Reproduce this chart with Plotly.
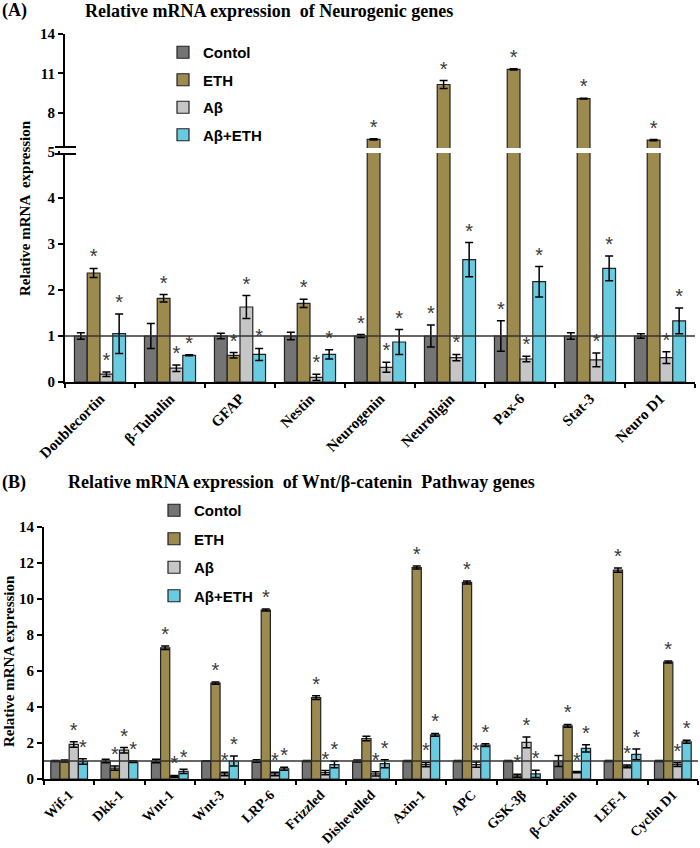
import plotly.graph_objects as go

# groups / colours
groups = ["Contol", "ETH", "Aβ", "Aβ+ETH"]
colors = ["#747474", "#9c8a4f", "#c6c6c6", "#68cbe0"]

# Panel A - neurogenic genes
genes_a = ["Doublecortin", "β-Tubulin", "GFAP", "Nestin", "Neurogenin",
           "Neuroligin", "Pax-6", "Stat-3", "Neuro D1"]
ctrl_a = [1.0, 1.0, 1.0, 1.0, 1.0, 1.0, 1.0, 1.0, 1.0]
ctrl_a_err = [0.07, 0.27, 0.06, 0.08, 0.03, 0.24, 0.33, 0.07, 0.05]
eth_a = [2.37, 1.82, 0.58, 1.71, 5.96, 10.15, 11.3, 9.07, 5.9]
eth_a_err = [0.10, 0.08, 0.06, 0.09, 0.05, 0.30, 0.05, 0.03, 0.05]
ab_a = [0.17, 0.30, 1.63, 0.10, 0.32, 0.53, 0.50, 0.48, 0.53]
ab_a_err = [0.05, 0.07, 0.25, 0.07, 0.11, 0.07, 0.06, 0.15, 0.13]
abeth_a = [1.05, 0.58, 0.60, 0.60, 0.87, 2.66, 2.18, 2.47, 1.33]
abeth_a_err = [0.43, 0.01, 0.13, 0.10, 0.27, 0.37, 0.33, 0.27, 0.28]
# significance marks (1 = asterisk)
ctrl_a_sig = [0, 0, 0, 0, 1, 1, 1, 0, 0]
eth_a_sig = [1, 1, 1, 1, 1, 1, 1, 1, 1]
ab_a_sig = [1, 1, 1, 1, 1, 1, 1, 1, 1]
abeth_a_sig = [1, 1, 1, 1, 1, 1, 1, 1, 1]

# Panel B - Wnt/beta-catenin pathway genes
genes_b = ["Wif-1", "Dkk-1", "Wnt-1", "Wnt-3", "LRP-6", "Frizzled", "Dishevelled",
           "Axin-1", "APC", "GSK-3β", "β-Catenin", "LEF-1", "Cyclin D1"]
ctrl_b = [1.0, 1.0, 1.0, 1.0, 1.0, 1.0, 1.0, 1.0, 1.0, 1.0, 1.0, 1.0, 1.0]
ctrl_b_err = [0.03, 0.10, 0.10, 0.02, 0.07, 0.03, 0.05, 0.03, 0.03, 0.03, 0.30, 0.03, 0.03]
eth_b = [1.0, 0.6, 7.29, 5.33, 9.39, 4.52, 2.25, 11.75, 10.92, 0.18, 2.95, 11.6, 6.5]
eth_b_err = [0.05, 0.12, 0.10, 0.06, 0.05, 0.10, 0.12, 0.08, 0.08, 0.08, 0.08, 0.12, 0.05]
ab_b = [1.92, 1.6, 0.15, 0.28, 0.28, 0.35, 0.28, 0.8, 0.8, 2.03, 0.38, 0.7, 0.8]
ab_b_err = [0.15, 0.15, 0.05, 0.10, 0.10, 0.12, 0.12, 0.12, 0.15, 0.30, 0.03, 0.08, 0.10]
abeth_b = [0.97, 0.97, 0.42, 1.0, 0.57, 0.8, 0.85, 2.45, 1.88, 0.28, 1.7, 1.37, 2.07]
abeth_b_err = [0.15, 0.05, 0.12, 0.28, 0.08, 0.18, 0.22, 0.08, 0.08, 0.20, 0.20, 0.30, 0.08]
ctrl_b_sig = [0, 0, 0, 0, 0, 0, 0, 0, 0, 0, 0, 0, 0]
eth_b_sig = [0, 1, 1, 1, 1, 1, 0, 1, 1, 1, 1, 1, 1]
ab_b_sig = [1, 1, 1, 1, 1, 1, 1, 1, 1, 1, 1, 1, 1]
abeth_b_sig = [1, 1, 1, 1, 1, 1, 1, 1, 1, 1, 1, 1, 1]

BREAK = 5

series_a = [(ctrl_a, ctrl_a_err, ctrl_a_sig), (eth_a, eth_a_err, eth_a_sig),
            (ab_a, ab_a_err, ab_a_sig), (abeth_a, abeth_a_err, abeth_a_sig)]
series_b = [(ctrl_b, ctrl_b_err, ctrl_b_sig), (eth_b, eth_b_err, eth_b_sig),
            (ab_b, ab_b_err, ab_b_sig), (abeth_b, abeth_b_err, abeth_b_sig)]

W, H = 700, 848
def px(v):  # pixel x -> paper
    return v / W
def py(v):  # pixel y (from top) -> paper
    return 1 - v / H

fig = go.Figure()

star_font = dict(family="Liberation Sans", size=20, color="#3a3a3a")
err_style = dict(type="data", color="black", thickness=1.5, width=4, visible=True)

def bar(x, y, err, i, xa, ya, legend, show):
    return go.Bar(
        x=x, y=y, name=groups[i], marker=dict(color=colors[i], line=dict(color="#222222", width=1.2)),
        error_y=dict(array=err, **err_style), xaxis=xa, yaxis=ya, offsetgroup=str(i),
        legendgroup=legend + groups[i], legend=legend, showlegend=show)

def stars(x, ytop, sig, i, xa, ya):
    return go.Scatter(
        x=x, y=ytop, mode="text", text=["*" if s else "" for s in sig],
        textposition="top center", textfont=star_font, xaxis=xa, yaxis=ya,
        offsetgroup=str(i), showlegend=False, hoverinfo="skip")

# panel A: lower (0-5) and upper (5-14) sections
for i, (vals, err, sig) in enumerate(series_a):
    fig.add_trace(bar(genes_a, vals, err, i, "x", "y", "legend", True))
    fig.add_trace(bar(genes_a, vals, err, i, "x3", "y2", "legend", False))
for i, (vals, err, sig) in enumerate(series_a):
    low = [v + e if v + e < BREAK else None for v, e in zip(vals, err)]
    up = [v + e if v > BREAK else None for v, e in zip(vals, err)]
    fig.add_trace(stars(genes_a, low, sig, i, "x", "y"))
    fig.add_trace(stars(genes_a, up, sig, i, "x3", "y2"))

# panel B
for i, (vals, err, sig) in enumerate(series_b):
    fig.add_trace(bar(genes_b, vals, err, i, "x2", "y3", "legend2", True))
for i, (vals, err, sig) in enumerate(series_b):
    fig.add_trace(stars(genes_b, [v + e for v, e in zip(vals, err)], sig, i, "x2", "y3"))

def tfont(size):
    return dict(family="Liberation Serif", size=size, color="black", weight="bold")

axis_common = dict(showline=True, linecolor="black", linewidth=2, ticks="outside",
                   ticklen=5, tickwidth=2, tickcolor="black", showgrid=False,
                   zeroline=False, automargin=False)
xcat = dict(tickangle=-45, tickson="boundaries", **{**axis_common, "ticklen": 4})

fig.update_layout(
    width=W, height=H, margin=dict(l=0, r=0, t=0, b=0, autoexpand=False),
    plot_bgcolor="white", paper_bgcolor="white",
    barmode="group", bargap=0.27, bargroupgap=0, scattermode="group",
    font=dict(family="Liberation Serif", color="black"),
    xaxis=dict(domain=[px(65), px(695)], anchor="y", range=[-0.5, 8.5],
               tickfont=tfont(15), **xcat),
    xaxis3=dict(domain=[px(65), px(695)], anchor="y2", matches="x", visible=False,
                automargin=False),
    yaxis=dict(domain=[py(382), py(152)], anchor="x", range=[0, BREAK],
               tickvals=[0, 1, 2, 3, 4], tickfont=tfont(15), **axis_common),
    yaxis2=dict(domain=[py(152), py(34)], anchor="x3", range=[BREAK, 14],
                tickvals=[5, 8, 11, 14], tickfont=tfont(15), **axis_common),
    xaxis2=dict(domain=[px(44), px(698)], anchor="y3", range=[-0.5, 12.5],
                tickfont=tfont(14), **xcat),
    yaxis3=dict(domain=[py(779), py(527)], anchor="x2", range=[0, 14],
                dtick=2, tickfont=tfont(15), **axis_common),
    legend=dict(x=px(163), y=py(36), xanchor="left", yanchor="top",
                font=dict(family="Liberation Sans", size=15, color="black", weight="bold"),
                traceorder="grouped", tracegroupgap=5, bgcolor="rgba(0,0,0,0)",
                itemclick=False),
    legend2=dict(x=px(154), y=py(494), xanchor="left", yanchor="top",
                 font=dict(family="Liberation Sans", size=15, color="black", weight="bold"),
                 traceorder="grouped", tracegroupgap=6, bgcolor="rgba(0,0,0,0)",
                 itemclick=False),
    showlegend=True,
)

# reference line at 1
fig.add_shape(type="line", xref="x domain", yref="y", x0=0, x1=1, y0=1, y1=1,
              line=dict(color="#333333", width=1.5))
fig.add_shape(type="line", xref="x2 domain", yref="y3", x0=0, x1=1, y0=1, y1=1,
              line=dict(color="#333333", width=1.5))

# axis break in panel A
fig.add_shape(type="rect", xref="paper", yref="paper", x0=px(60), x1=px(697),
              y0=py(153), y1=py(148), fillcolor="white", line=dict(width=0), layer="above")
for yb in (147, 154):
    fig.add_shape(type="line", xref="paper", yref="paper", x0=px(55), x1=px(76),
                  y0=py(yb), y1=py(yb), line=dict(color="black", width=2), layer="above")

def label(text, x, y, font, angle=0, xanchor="left"):
    fig.add_annotation(text=text, x=px(x), y=py(y), xref="paper", yref="paper",
                       xanchor=xanchor, yanchor="middle", textangle=angle,
                       showarrow=False, font=font)

label("(A)", 0, 11, tfont(18))
label("Relative mRNA expression  of Neurogenic genes", 83, 11, tfont(18))
label("(B)", 0, 482, tfont(18))
label("Relative mRNA expression  of Wnt/β-catenin  Pathway genes", 66, 482, tfont(18))

label("Relative mRNA  expression", 25, 208, tfont(15), angle=-90, xanchor="center")
label("Relative mRNA expression", 9, 661, tfont(15), angle=-90, xanchor="center")

# page body has a default 8px margin; remove it so the figure sits at the window corner
fig.write_html("out.html", config={"displayModeBar": False},
               post_script="document.body.style.margin='0';")
